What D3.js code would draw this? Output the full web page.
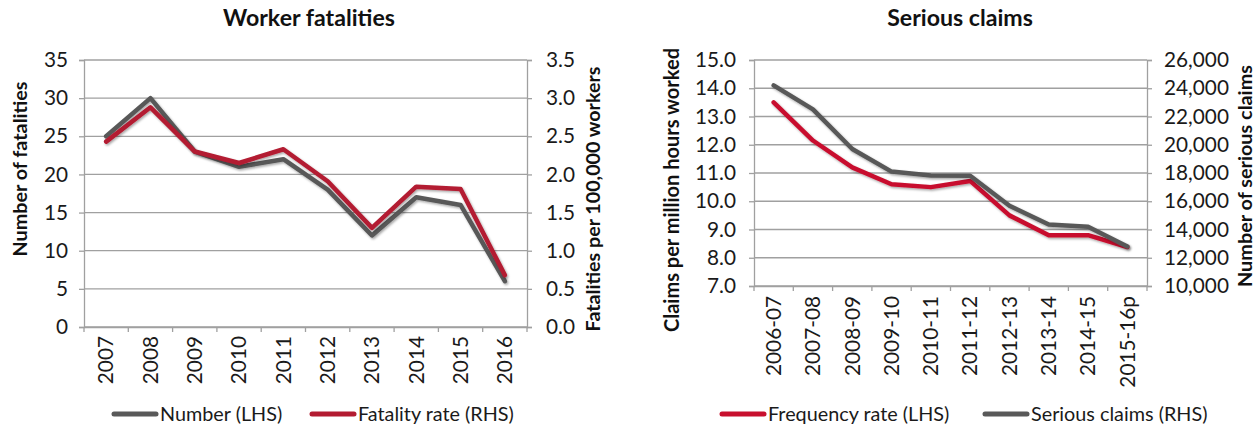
<!DOCTYPE html>
<html><head><meta charset="utf-8">
<script src="https://cdn.jsdelivr.net/npm/d3@7"></script>
<style>
body{margin:0;background:#fff;}
svg{display:block;font-family:Lato,"Open Sans",sans-serif;}
</style></head>
<body><svg id="c" width="1257" height="428"></svg>
<script>
// ---- Data ----
const years = ["2007","2008","2009","2010","2011","2012","2013","2014","2015","2016"];
const fatalNumber = [25,30,23,21,22,18,12,17,16,6];
const fatalRate = [2.43,2.88,2.30,2.15,2.33,1.91,1.30,1.84,1.81,0.68];
const leftTicksL = [0,5,10,15,20,25,30,35];
const leftTicksR = [0,0.5,1.0,1.5,2.0,2.5,3.0,3.5];

const periods = ["2006-07","2007-08","2008-09","2009-10","2010-11","2011-12","2012-13","2013-14","2014-15","2015-16p"];
const freqRate = [13.5,12.15,11.2,10.6,10.5,10.72,9.5,8.8,8.8,8.38];
const seriousClaims = [24200,22500,19700,18100,17820,17800,15680,14350,14200,12800];
const rightTicksL = [7,8,9,10,11,12,13,14,15];
const rightTicksR = [10000,12000,14000,16000,18000,20000,22000,24000,26000];

const GRAY = "#595959", RED1 = "#b31b31", RED2 = "#c8102e", GRID = "#a0a0a0";
const svg = d3.select("#c");

// font size that makes a string reach a given width
function fit(str, weight, target){
  const t = svg.append("text").style("font-size","100px").style("font-weight",weight).text(str);
  const w = t.node().getComputedTextLength(); t.remove();
  return 100*target/w;
}
const TICK = fit("26,000","normal",65);
const LEG = fit("Fatality rate (RHS)","normal",156);
const TITLE = fit("Worker fatalities","bold",172);

const defs = svg.append("defs");
const f = defs.append("filter").attr("id","sh").attr("x","-10%").attr("y","-10%").attr("width","120%").attr("height","130%");
f.append("feDropShadow").attr("dx",1.2).attr("dy",1.5).attr("stdDeviation",0.8).attr("flood-color","#000").attr("flood-opacity",0.35);

function chart(o){
  const g = svg.append("g");
  const x = d3.scaleBand().domain(o.cats).range([o.x0,o.x1]);
  const yL = d3.scaleLinear().domain(o.dL).range([o.y1,o.y0]);
  const yR = d3.scaleLinear().domain(o.dR).range([o.y1,o.y0]);
  g.append("g").selectAll("line").data(o.tL).join("line")
    .attr("x1",o.x0).attr("x2",o.x1).attr("y1",d=>yL(d)).attr("y2",d=>yL(d))
    .attr("stroke",GRID).attr("stroke-width",1.3);
  const axL = g.append("g").attr("transform",`translate(${o.x0},0)`)
    .call(d3.axisLeft(yL).tickValues(o.tL).tickFormat(o.fL).tickSizeOuter(0).tickSize(5).tickPadding(o.padL));
  const axR = g.append("g").attr("transform",`translate(${o.x1},0)`)
    .call(d3.axisRight(yR).tickValues(o.tR).tickFormat(o.fR).tickSizeOuter(0).tickSize(5).tickPadding(o.padR));
  const axX = g.append("g").attr("transform",`translate(0,${o.y1})`)
    .call(d3.axisBottom(x).tickSize(0).tickSizeOuter(0));
  const bounds = o.cats.map(c=>x(c)).concat([o.x1]);
  g.append("g").selectAll("line").data(bounds).join("line")
    .attr("x1",d=>d).attr("x2",d=>d).attr("y1",o.y1).attr("y2",o.y1+5)
    .attr("stroke",GRID).attr("stroke-width",1.3);
  [axL,axR,axX].forEach(a=>{
    a.attr("font-size",null).attr("font-family",null);
    a.select(".domain").attr("stroke",GRID).attr("stroke-width",1.3);
    a.selectAll(".tick line").attr("stroke",GRID).attr("stroke-width",1.3);
    a.selectAll("text").attr("fill","#1a1a1a").style("font-size",TICK+"px");
  });
  axX.selectAll("text").attr("transform","rotate(-90)").attr("text-anchor","end")
    .attr("x",-o.xPad).attr("y",0).attr("dy","0.35em");
  g.append("text").attr("x",o.tx).attr("y",26).attr("text-anchor","middle")
    .style("font-size",TITLE+"px").style("font-weight","bold").attr("fill","#111").text(o.title);
  [[o.lx,o.lc,o.lw,o.lTitle],[o.rx,o.rc,o.rw,o.rTitle]].forEach(([xx,cc,ww,tt])=>{
    g.append("text").attr("transform",`translate(${xx},${cc}) rotate(-90)`)
      .attr("text-anchor","middle").attr("dy","0.35em")
      .style("font-size",fit(tt,"bold",ww)+"px").style("font-weight","bold").attr("fill","#111").text(tt);
  });
  const cx = c=>x(c)+x.bandwidth()/2;
  o.series.forEach(s=>{
    const sc = s.axis==="L"?yL:yR;
    g.append("path").datum(s.vals)
      .attr("d",d3.line().x((d,i)=>cx(o.cats[i])).y(d=>sc(d)))
      .attr("fill","none").attr("stroke",s.color).attr("stroke-width",4.5)
      .attr("stroke-linejoin","round").attr("stroke-linecap","round").attr("filter","url(#sh)");
  });
  o.legend.forEach(l=>{
    g.append("line").attr("x1",l.x).attr("x2",l.x+42).attr("y1",414).attr("y2",414)
      .attr("stroke",l.color).attr("stroke-width",5).attr("stroke-linecap","round");
    g.append("text").attr("x",l.x+46).attr("y",414).attr("dy","0.36em")
      .style("font-size",LEG+"px").attr("fill","#1a1a1a").text(l.label);
  });
}

chart({cats:years,x0:84,x1:527,y0:60,y1:327,dL:[0,35],dR:[0,3.5],tL:leftTicksL,tR:leftTicksR,
  fL:d3.format("d"),fR:d3.format(".1f"),title:"Worker fatalities",tx:309,
  lx:20,lc:169,lw:175,rx:593,rc:199,rw:265,padL:11,padR:14,xPad:9,
  lTitle:"Number of fatalities",rTitle:"Fatalities per 100,000 workers",
  series:[{vals:fatalNumber,axis:"L",color:GRAY},{vals:fatalRate,axis:"R",color:RED1}],
  legend:[{x:114,color:GRAY,label:"Number (LHS)"},{x:312,color:RED1,label:"Fatality rate (RHS)"}]});

chart({cats:periods,x0:754,x1:1147,y0:60,y1:286,dL:[7,15],dR:[10000,26000],tL:rightTicksL,tR:rightTicksR,
  fL:d3.format(".1f"),fR:d3.format(","),title:"Serious claims",tx:960,
  lx:672,lc:190,lw:284,rx:1245,rc:176,rw:222,padL:13,padR:12,xPad:10,
  lTitle:"Claims per million hours worked",rTitle:"Number of serious claims",
  series:[{vals:freqRate,axis:"L",color:RED2},{vals:seriousClaims,axis:"R",color:GRAY}],
  legend:[{x:722,color:RED2,label:"Frequency rate (LHS)"},{x:985,color:GRAY,label:"Serious claims (RHS)"}]});
</script></body></html>
